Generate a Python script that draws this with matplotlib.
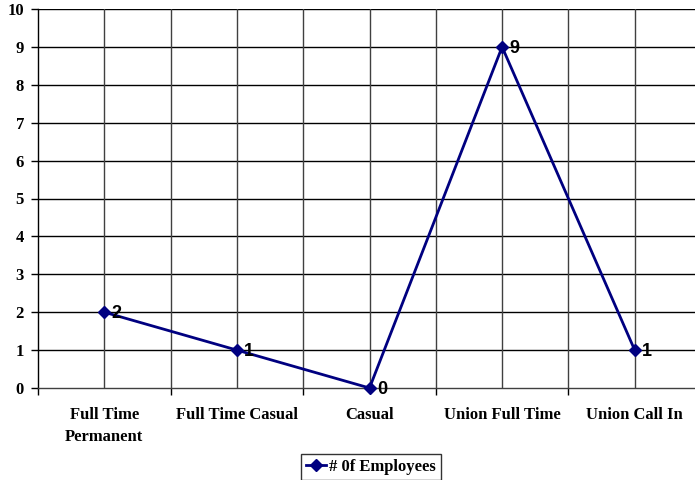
import numpy as np
import matplotlib.pyplot as plt
from matplotlib.ticker import FixedLocator

categories = ["Full Time\nPermanent", "Full Time Casual", "Casual", "Union Full Time", "Union Call In"]
employees = [2, 1, 0, 9, 1]
y_ticks = list(range(0, 11))

W, H = 695, 480
fig = plt.figure(figsize=(W / 100, H / 100), dpi=100)
# plot area in pixels: left 38, right 701, top 9, bottom 388
ax = fig.add_axes([38 / W, (H - 388) / H, (701 - 38) / W, (388 - 9) / H])

x = np.arange(len(categories))
line, = ax.plot(x, employees, color="#000080", lw=2, marker="D", ms=6,
                label="# 0f Employees", clip_on=False, zorder=5)
for xi, yi in zip(x, employees):
    ax.text(xi + 0.055, yi - 0.03, str(yi), fontsize=13, fontweight="bold",
            family="Liberation Sans", va="center", ha="left", zorder=6)

ax.set_xlim(-0.5, len(categories) - 0.5)
ax.set_ylim(0, 10)
ax.set_yticks(y_ticks)
ax.set_yticklabels([str(t) for t in y_ticks], family="Liberation Serif",
                   fontweight="bold", fontsize=12)

# category boundaries get tick marks; labels sit at centres
bounds = np.arange(-0.5, len(categories), 1.0)
ax.xaxis.set_major_locator(FixedLocator(bounds))
ax.tick_params(axis="x", which="major", length=5, width=1, labelbottom=False)
ax.set_xticks(x, minor=True)
ax.set_xticklabels(categories, minor=True, family="Liberation Serif",
                   fontweight="bold", fontsize=12, linespacing=1.5, va="top")
ax.tick_params(axis="x", which="minor", length=0, pad=14)
ax.tick_params(axis="y", length=5, width=1, pad=5)

# gridlines
for yv in y_ticks[1:]:
    ax.axhline(yv, color="black", lw=1, zorder=1)
for xv in np.arange(0, len(categories) - 0.5 + 0.01, 0.5):
    ax.axvline(xv, color="#404040", lw=1, zorder=1)

for side in ["top", "right"]:
    ax.spines[side].set_visible(False)
ax.spines["left"].set_linewidth(1)
ax.spines["bottom"].set_linewidth(1)
ax.spines["bottom"].set_color("#404040")

leg = fig.legend(handles=[line], loc="center", bbox_to_anchor=(371 / W, 1 - 467 / H),
                 prop={"family": "Liberation Serif", "weight": "bold", "size": 12},
                 frameon=True, fancybox=False, edgecolor="black", handlelength=1.2,
                 handletextpad=0.15, borderpad=0.3, borderaxespad=0)
leg.get_frame().set_linewidth(1)

fig.savefig("out.png", dpi=100)
